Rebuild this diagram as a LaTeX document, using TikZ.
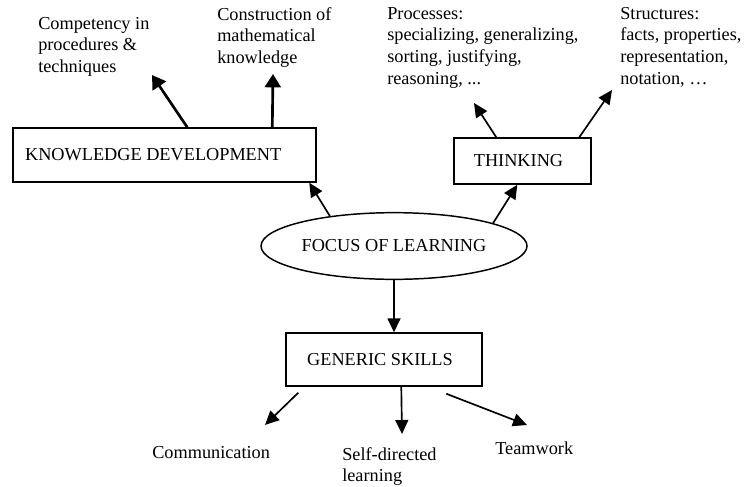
\documentclass[tikz,border=0pt]{standalone}
\usepackage{fontspec}
\setmainfont{Liberation Serif}
\usetikzlibrary{shapes.geometric,arrows.meta,calc}
\begin{document}
\begin{tikzpicture}[x=0.75pt,y=-0.75pt,
  every node/.style={font=\fontsize{13.7}{16.2}\selectfont},
  box/.style={draw,line width=1.1pt,rectangle,inner sep=0pt},
  oval/.style={draw,line width=1.1pt,ellipse,inner sep=0pt},
  note/.style={anchor=north west,inner sep=0pt,align=left},
  arr/.style={line width=1.25pt,-{Triangle[length=10.5pt,width=9.75pt]}},
  bold arr/.style={line width=2pt,-{Triangle[length=10pt,width=12pt]}}]
\useasboundingbox (0,0) rectangle (748,486);

% central ellipse and the three boxes (text set a little left of centre)
\node[oval,minimum width=199.5pt,minimum height=50pt] (foc) at (394,246) {FOCUS OF LEARNING};
\node[box,minimum width=227.25pt,minimum height=40.5pt] (kd) at (164.5,155) {KNOWLEDGE DEVELOPMENT\kern17pt};
\node[box,minimum width=102.75pt,minimum height=34.5pt] (th) at (522.5,161) {THINKING\kern6pt};
\node[box,minimum width=147pt,minimum height=39.75pt] (gs) at (384,359.5) {GENERIC SKILLS\kern6pt};

% free text
\node[note] (comp) at (38,17) {Competency in\\procedures \&\\techniques};
\node[note] (cons) at (217,7) {Construction of\\mathematical\\knowledge};
\node[note] (proc) at (387,7) {Processes:\\specializing, generalizing,\\sorting, justifying,\\reasoning, ...};
\node[note] (struc) at (620,7) {Structures:\\facts, properties,\\representation,\\notation, \dots};
\node[note] (comm) at (152,446) {Communication};
\node[note] (self) at (342,447) {Self-directed\\learning};
\node[note] (team) at (495,442) {Teamwork};

% arrow ends next to the free text
\coordinate (t1) at (152,75);
\coordinate (t2) at (273,74);
\coordinate (t5) at (474,103);
\coordinate (t6) at (612,90);
\coordinate (t8) at (265,425);
\coordinate (t9) at (402,434);
\coordinate (t10) at (527,425);

% connectors
\draw[bold arr] ($(kd.north west)+(175,0)$) -- (t1);
\draw[bold arr] ($(kd.north west)+(260,0)$) -- (t2);
\draw[arr] (foc.155) -- ($(kd.south west)+(297,0)$);
\draw[arr] (foc.13) -- ($(th.south west)+(64,0)$);
\draw[arr] ($(th.north west)+(43,0)$) -- (t5);
\draw[arr] ($(th.north west)+(126,0)$) -- (t6);
\draw[arr] (foc.south) -- (foc.south |- gs.north);
\draw[arr] ($(gs.south west)+(13,6)$) -- (t8);
\draw[arr] ($(gs.south west)+(116,0)$) -- (t9);
\draw[arr] ($(gs.south west)+(161,7)$) -- (t10);
\end{tikzpicture}
\end{document}
